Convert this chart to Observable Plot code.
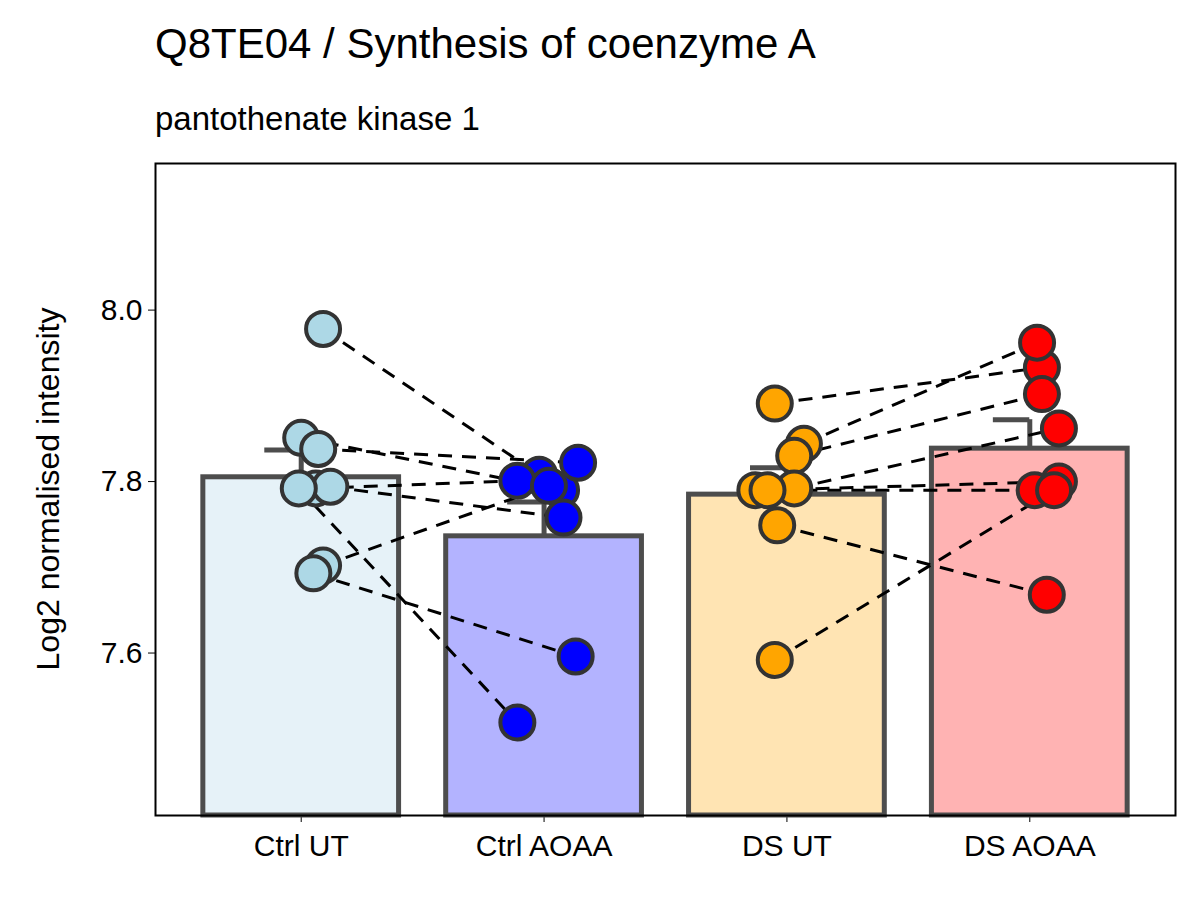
<!DOCTYPE html>
<html><head><meta charset="utf-8">
<script src="https://cdn.jsdelivr.net/npm/d3@7"></script>
<script src="https://cdn.jsdelivr.net/npm/@observablehq/plot@0.6"></script>
<style>
body{margin:0;background:#fff;font-family:Arial,"Liberation Sans",sans-serif}
#t{position:absolute;left:155px;top:20px;font-size:42px}
#s{position:absolute;left:155px;top:100px;font-size:33px}
#yl{position:absolute;left:48px;top:489px;font-size:32px;white-space:nowrap;transform:translate(-50%,-50%) rotate(-90deg)}
#chart{position:absolute;left:0;top:150px}
</style></head><body>
<div id="t">Q8TE04 / Synthesis of coenzyme A</div>
<div id="s">pantothenate kinase 1</div>
<div id="yl">Log2 normalised intensity</div>
<div id="chart"></div>
<script>
const groups = ['Ctrl UT', 'Ctrl AOAA', 'DS UT', 'DS AOAA']
const pointFill = ['#ADD8E6', '#0000FF', '#FFA500', '#FF0000']
const barFill = ['#e6f2f8', '#b3b3ff', '#ffe4b3', '#ffb3b3']
// paired samples: untreated value -> AOAA value, with jitter offsets
const ctrlUT = [7.978, 7.851, 7.838, 7.792, 7.794, 7.792, 7.702, 7.693]
const ctrlUTjit = [0.09, 0.0, 0.07, 0.06, 0.12, -0.01, 0.09, 0.05]
const ctrlAOAA = [7.808, 7.79, 7.822, 7.801, 7.758, 7.519, 7.795, 7.596]
const ctrlAOAAjit = [-0.02, 0.07, 0.14, -0.11, 0.08, -0.11, 0.02, 0.13]
const dsUT = [7.891, 7.844, 7.830, 7.792, 7.790, 7.790, 7.749, 7.592]
const dsUTjit = [-0.05, 0.07, 0.03, 0.03, -0.13, -0.08, -0.04, -0.05]
const dsAOAA = [7.933, 7.962, 7.902, 7.862, 7.790, 7.80, 7.668, 7.79]
const dsAOAAjit = [0.05, 0.03, 0.05, 0.12, 0.02, 0.12, 0.07, 0.1]

const pts = []
const links = []
function add(a, aj, b, bj, ia, ib) {
  a.forEach((v, k) => {
    pts.push({x: ia + aj[k], y: v, g: ia})
    pts.push({x: ib + bj[k], y: b[k], g: ib})
    links.push({x1: ia + aj[k], y1: v, x2: ib + bj[k], y2: b[k]})
  })
}
add(ctrlUT, ctrlUTjit, ctrlAOAA, ctrlAOAAjit, 0, 1)
add(dsUT, dsUTjit, dsAOAA, dsAOAAjit, 2, 3)

const vals = [ctrlUT, ctrlAOAA, dsUT, dsAOAA]
const stats = vals.map((v, i) => {
  const m = d3.mean(v), se = d3.deviation(v) / Math.sqrt(v.length)
  return {i, m, top: m + se}
})
const yMin = 7.4105, yMax = 8.171

const chart = Plot.plot({
  width: 1200, height: 750,
  marginLeft: 155, marginRight: 25, marginTop: 13, marginBottom: 85,
  style: {fontSize: '30px', fontFamily: 'Arial, Liberation Sans, sans-serif', color: '#000'},
  x: {domain: [-0.6, 3.6], ticks: [0, 1, 2, 3], tickFormat: i => groups[i], label: null, tickSize: 7, tickPadding: 12},
  y: {domain: [yMin, yMax], ticks: [7.6, 7.8, 8.0], tickFormat: '.1f', label: null, tickSize: 7, tickPadding: 6},
  marks: [
    Plot.rect(stats, {x1: d => d.i - 0.403, x2: d => d.i + 0.403, y1: yMin, y2: 'm',
      fill: d => barFill[d.i], stroke: '#4d4d4d', strokeWidth: 5}),
    Plot.ruleX(stats, {x: 'i', y1: 'm', y2: 'top', stroke: '#4d4d4d', strokeWidth: 5}),
    Plot.ruleY(stats, {y: 'top', x1: d => d.i - 0.15, x2: d => d.i, stroke: '#4d4d4d', strokeWidth: 5}),
    Plot.link(links, {x1: 'x1', y1: 'y1', x2: 'x2', y2: 'y2', stroke: '#000', strokeWidth: 3, strokeDasharray: '14,10'}),
    Plot.dot(pts, {x: 'x', y: 'y', r: 17, fill: d => pointFill[d.g], stroke: '#333', strokeWidth: 4}),
    Plot.frame({stroke: '#000', strokeWidth: 2})
  ]
})
d3.select('#chart').append(() => chart)
</script></body></html>
